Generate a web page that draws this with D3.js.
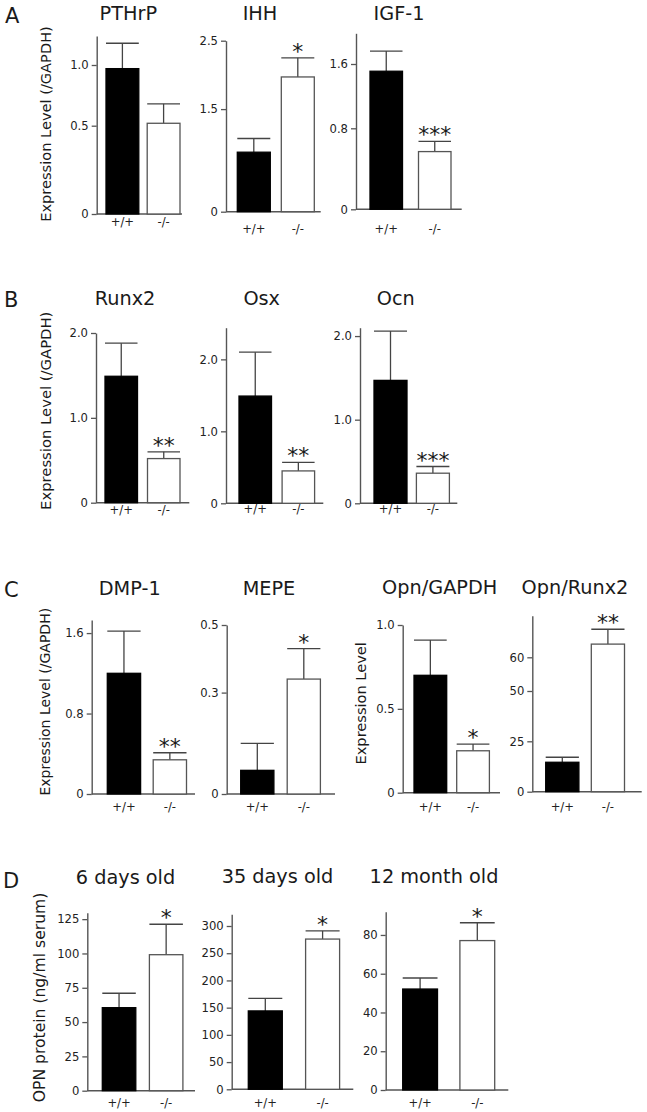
<!DOCTYPE html>
<html><head><meta charset="utf-8">
<script src="https://cdn.jsdelivr.net/npm/d3@7"></script>
<style>
body{margin:0;background:#fff}
svg{display:block}
text{font-family:"DejaVu Sans",sans-serif}
</style>
</head><body>
<svg id="chart" width="647" height="1112"></svg>
<script>
// ---------------- DATA ----------------
const groups = ["+/+", "-/-"];

// Panel A
const pthrpMean = [0.97, 0.52], pthrpSem = [0.21, 0.16], pthrpSig = ["", ""];
const pthrpTicks = [0, 0.5, 1.0], pthrpTickLabels = ["0", "0.5", "1.0"], pthrpMax = 1.24;
const ihhMean = [0.87, 1.97], ihhSem = [0.20, 0.28], ihhSig = ["", "*"];
const ihhTicks = [0, 1.5, 2.5], ihhTickLabels = ["0", "1.5", "2.5"], ihhMax = 2.5;
const igfMean = [1.51, 0.57], igfSem = [0.25, 0.10], igfSig = ["", "***"];
const igfTicks = [0, 0.8, 1.6], igfTickLabels = ["0", "0.8", "1.6"], igfMax = 1.98;

// Panel B
const runx2Mean = [1.49, 0.52], runx2Sem = [0.39, 0.08], runx2Sig = ["", "**"];
const runx2Ticks = [0, 1.0, 2.0], runx2TickLabels = ["0", "1.0", "2.0"], runx2Max = 2.0;
const osxMean = [1.49, 0.45], osxSem = [0.61, 0.12], osxSig = ["", "**"];
const osxTicks = [0, 1.0, 2.0], osxTickLabels = ["0", "1.0", "2.0"], osxMax = 2.44;
const ocnMean = [1.47, 0.36], ocnSem = [0.59, 0.08], ocnSig = ["", "***"];
const ocnTicks = [0, 1.0, 2.0], ocnTickLabels = ["0", "1.0", "2.0"], ocnMax = 2.1;

// Panel C
const dmpMean = [1.20, 0.34], dmpSem = [0.42, 0.07], dmpSig = ["", "**"];
const dmpTicks = [0, 0.8, 1.6], dmpTickLabels = ["0", "0.8", "1.6"], dmpMax = 1.73;
const mepeMean = [0.07, 0.34], mepeSem = [0.08, 0.09], mepeSig = ["", "*"];
const mepeTicks = [0, 0.3, 0.5], mepeTickLabels = ["0", "0.3", "0.5"], mepeMax = 0.5;
const opnGMean = [0.70, 0.25], opnGSem = [0.21, 0.04], opnGSig = ["", "*"];
const opnGTicks = [0, 0.5, 1.0], opnGTickLabels = ["0", "0.5", "1.0"], opnGMax = 1.0;
const opnRMean = [14.6, 63.9], opnRSem = [2.5, 4.4], opnRSig = ["", "**"];
const opnRTicks = [0, 25, 50, 60], opnRTickLabels = ["0", "25", "50", "60"], opnRMax = 72.3;

// Panel D
const d6Mean = [60.5, 99.1], d6Sem = [10.5, 22.2], d6Sig = ["", "*"];
const d6Ticks = [0, 25, 50, 75, 100, 125], d6TickLabels = ["0", "25", "50", "75", "100", "125"], d6Max = 129.7;
const d35Mean = [144, 276], d35Sem = [23, 15], d35Sig = ["", "*"];
const d35Ticks = [0, 50, 100, 150, 200, 250, 300], d35TickLabels = ["0", "50", "100", "150", "200", "250", "300"], d35Max = 321.5;
const m12Mean = [52.1, 77.1], m12Sem = [5.7, 9.2], m12Sig = ["", "*"];
const m12Ticks = [0, 20, 40, 60, 80], m12TickLabels = ["0", "20", "40", "60", "80"], m12Max = 92;

const titles = ["PTHrP", "IHH", "IGF-1", "Runx2", "Osx", "Ocn", "DMP-1", "MEPE", "Opn/GAPDH", "Opn/Runx2", "6 days old", "35 days old", "12 month old"];
const panelLetters = ["A", "B", "C", "D"];
const yLabels = ["Expression Level (/GAPDH)", "Expression Level (/GAPDH)", "Expression Level (/GAPDH)", "Expression Level", "OPN protein (ng/ml serum)"];

// ---------------- LAYOUT ----------------
const dataSets = [
  [pthrpMean, pthrpSem, pthrpSig, pthrpTicks, pthrpTickLabels, pthrpMax],
  [ihhMean, ihhSem, ihhSig, ihhTicks, ihhTickLabels, ihhMax],
  [igfMean, igfSem, igfSig, igfTicks, igfTickLabels, igfMax],
  [runx2Mean, runx2Sem, runx2Sig, runx2Ticks, runx2TickLabels, runx2Max],
  [osxMean, osxSem, osxSig, osxTicks, osxTickLabels, osxMax],
  [ocnMean, ocnSem, ocnSig, ocnTicks, ocnTickLabels, ocnMax],
  [dmpMean, dmpSem, dmpSig, dmpTicks, dmpTickLabels, dmpMax],
  [mepeMean, mepeSem, mepeSig, mepeTicks, mepeTickLabels, mepeMax],
  [opnGMean, opnGSem, opnGSig, opnGTicks, opnGTickLabels, opnGMax],
  [opnRMean, opnRSem, opnRSig, opnRTicks, opnRTickLabels, opnRMax],
  [d6Mean, d6Sem, d6Sig, d6Ticks, d6TickLabels, d6Max],
  [d35Mean, d35Sem, d35Sig, d35Ticks, d35TickLabels, d35Max],
  [m12Mean, m12Sem, m12Sig, m12Ticks, m12TickLabels, m12Max]
];

const layouts = [
  {axisX: 96.7, xEnd: 182, y0: 214, yTop: 36, tickY: [214, 125.7, 65], off: 9.3, bw: 32.8, gap: 8.4, tx: 128.3, ty: 20, ly: 226},
  {axisX: 226, xEnd: 320.7, y0: 211.7, yTop: 40.7, off: 11.3, bw: 33, gap: 11, tx: 260, ty: 20, ly: 233},
  {axisX: 356, xEnd: 461.7, y0: 209.3, yTop: 33.3, tickY: [209.3, 128.3, 64], off: 14, bw: 32.5, gap: 16, tx: 399, ty: 20, ly: 232.5},
  {axisX: 96, xEnd: 189.3, y0: 502.7, yTop: 333, off: 9, bw: 32.5, gap: 10, tx: 125, ty: 305, ly: 514},
  {axisX: 226, xEnd: 323.3, y0: 503.3, yTop: 327.7, off: 13, bw: 32.5, gap: 10.6, tx: 261.7, ty: 305, ly: 512.5},
  {axisX: 360, xEnd: 457.3, y0: 503.3, yTop: 327.7, off: 14, bw: 33, gap: 9.4, tx: 395.8, ty: 305, ly: 512.5},
  {axisX: 91.7, xEnd: 195, y0: 794, yTop: 620, off: 15.6, bw: 33.3, gap: 12.6, tx: 129.7, ty: 595, ly: 811},
  {axisX: 226.7, xEnd: 335, y0: 794, yTop: 625, off: 14, bw: 33.2, gap: 13.3, tx: 269, ty: 595, ly: 811},
  {axisX: 402.7, xEnd: 500, y0: 792.7, yTop: 625, off: 11.3, bw: 32.7, gap: 10, tx: 439.7, ty: 594, ly: 811},
  {axisX: 532.3, xEnd: 641.7, y0: 791.7, yTop: 615.7, tickY: [791.7, 741.3, 691, 657.3], off: 13.4, bw: 33.2, gap: 12.4, tx: 575, ty: 594, ly: 811},
  {axisX: 87.3, xEnd: 195, y0: 1090.7, yTop: 912.7, off: 15, bw: 33.5, gap: 13.6, tx: 125.5, ty: 883.5, ly: 1107},
  {axisX: 231.7, xEnd: 353.3, y0: 1089.3, yTop: 914.3, off: 16.6, bw: 34, gap: 23.3, tx: 277.5, ty: 883, ly: 1107},
  {axisX: 385.7, xEnd: 508.3, y0: 1090, yTop: 911.7, off: 17, bw: 34.8, gap: 22.4, tx: 434, ty: 883, ly: 1107}
];

const letterPos = [{x: 5, y: 23}, {x: 4, y: 307}, {x: 4, y: 597}, {x: 3, y: 888}];
const yLabelPos = [
  {x: 45, y: 124, fs: 14.6}, {x: 45, y: 410.8, fs: 14.8}, {x: 45, y: 701.7, fs: 14}, 
  {x: 360.7, y: 703.3, fs: 14.6}, {x: 40, y: 997.5, fs: 15.6}
];

const AX = "#555", TXT = "#1a1a1a";

// ---------------- DRAW ----------------
const svg = d3.select("#chart");

dataSets.forEach((ds, i) => {
  const [mean, sem, sig, ticks, tickLabels, maxV] = ds;
  const L = layouts[i];
  const g = svg.append("g");

  const y = L.tickY
    ? d3.scaleLinear().domain([...ticks, maxV]).range([...L.tickY, L.yTop])
    : d3.scaleLinear().domain([0, maxV]).range([L.y0, L.yTop]);

  const x0 = L.axisX + L.off;
  const x = d3.scaleBand().domain(groups)
    .range([x0, x0 + 2 * L.bw + L.gap])
    .paddingInner(L.gap / (L.bw + L.gap)).paddingOuter(0);

  // y axis
  const yAxis = g.append("g").attr("transform", `translate(${L.axisX},0)`)
    .call(d3.axisLeft(y).tickValues(ticks).tickFormat((d, k) => tickLabels[k])
      .tickSize(5).tickSizeOuter(0).tickPadding(3));
  yAxis.select(".domain").attr("stroke", AX).attr("stroke-width", 1.4);
  yAxis.selectAll(".tick line").attr("stroke", AX).attr("stroke-width", 1.3);
  yAxis.selectAll(".tick text").attr("fill", "#222")
    .style("font-family", "'DejaVu Sans',sans-serif").style("font-size", "11.6px");

  // x axis line
  g.append("line").attr("x1", L.axisX).attr("x2", L.xEnd)
    .attr("y1", y(0)).attr("y2", y(0)).attr("stroke", AX).attr("stroke-width", 1.4);

  const rows = groups.map((k, j) => ({k, m: mean[j], s: sem[j], sig: sig[j], j}));

  // error bars
  rows.forEach(r => {
    const cx = x(r.k) + x.bandwidth() / 2;
    g.append("line").attr("x1", cx).attr("x2", cx)
      .attr("y1", y(r.m)).attr("y2", y(r.m + r.s)).attr("stroke", "#444").attr("stroke-width", 1.3);
    g.append("line").attr("x1", x(r.k)).attr("x2", x(r.k) + x.bandwidth())
      .attr("y1", y(r.m + r.s)).attr("y2", y(r.m + r.s)).attr("stroke", "#444").attr("stroke-width", 1.3);
    if (r.sig) {
      g.append("text").attr("x", cx).attr("y", y(r.m + r.s) + 1)
        .attr("text-anchor", "middle").attr("fill", TXT)
        .style("font-size", "22px").text(r.sig);
    }
  });

  // bars
  g.selectAll("rect.bar").data(rows).enter().append("rect")
    .attr("class", "bar")
    .attr("x", d => x(d.k)).attr("width", x.bandwidth())
    .attr("y", d => y(d.m)).attr("height", d => y(0) - y(d.m))
    .attr("fill", d => d.j === 0 ? "#000" : "#fff")
    .attr("stroke", d => d.j === 0 ? "#000" : AX)
    .attr("stroke-width", 1.3);

  // group labels
  g.selectAll("text.grp").data(rows).enter().append("text")
    .attr("class", "grp")
    .attr("x", d => x(d.k) + x.bandwidth() / 2).attr("y", L.ly)
    .attr("text-anchor", "middle").attr("fill", "#222")
    .style("font-size", "11.6px").text(d => d.k);

  // title
  g.append("text").attr("x", L.tx).attr("y", L.ty).attr("text-anchor", "middle")
    .attr("fill", TXT).style("font-size", "19.3px").text(titles[i]);
});

panelLetters.forEach((t, i) => {
  svg.append("text").attr("x", letterPos[i].x).attr("y", letterPos[i].y)
    .attr("fill", TXT).style("font-size", "21px").text(t);
});

yLabels.forEach((t, i) => {
  const p = yLabelPos[i];
  svg.append("text").attr("transform", `translate(${p.x},${p.y}) rotate(-90)`)
    .attr("text-anchor", "middle").attr("dominant-baseline", "central")
    .attr("fill", TXT).style("font-size", p.fs + "px").text(t);
});
</script>
</body></html>
